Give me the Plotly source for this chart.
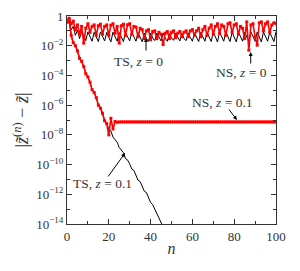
import plotly.graph_objects as go

n_all = list(range(0, 101))

ts_z0 = [0.45, 0.35, 0.12, 0.2, 0.05, 0.11, 0.03, 0.09, 0.045, 0.022,
         0.085, 0.04, 0.02, 0.08, 0.042, 0.019, 0.085, 0.045, 0.021, 0.08,
         0.04, 0.018, 0.082, 0.038, 0.02, 0.078, 0.04, 0.019, 0.075, 0.036,
         0.021, 0.08, 0.042, 0.02, 0.076, 0.035, 0.018, 0.07, 0.03, 0.02,
         0.068, 0.033, 0.022, 0.072, 0.036, 0.021, 0.07, 0.032, 0.02, 0.066,
         0.034, 0.023, 0.07, 0.035, 0.021, 0.068, 0.03, 0.022, 0.074, 0.036,
         0.02, 0.075, 0.038, 0.019, 0.08, 0.04, 0.02, 0.082, 0.041, 0.019,
         0.085, 0.04, 0.018, 0.083, 0.043, 0.02, 0.086, 0.042, 0.019, 0.08,
         0.038, 0.018, 0.085, 0.04, 0.02, 0.082, 0.039, 0.019, 0.084, 0.04,
         0.02, 0.083, 0.041, 0.018, 0.085, 0.04, 0.02, 0.08, 0.038, 0.019,
         0.09]

ns_z0 = [0.4, 0.7, 0.3, 0.45, 0.12, 0.25, 0.06, 0.2, 0.015, 0.15,
         0.3, 0.08, 0.2, 0.25, 0.05, 0.22, 0.28, 0.06, 0.2, 0.25,
         0.05, 0.24, 0.3, 0.07, 0.2, 0.015, 0.22, 0.28, 0.05, 0.26,
         0.3, 0.06, 0.2, 0.18, 0.04, 0.15, 0.12, 0.03, 0.1, 0.12,
         0.025, 0.09, 0.1, 0.03, 0.08, 0.06, 0.012, 0.07, 0.09, 0.03,
         0.08, 0.1, 0.035, 0.07, 0.09, 0.04, 0.08, 0.1, 0.04, 0.1,
         0.12, 0.05, 0.1, 0.15, 0.04, 0.12, 0.2, 0.05, 0.15, 0.25,
         0.06, 0.2, 0.3, 0.07, 0.25, 0.2, 0.05, 0.3, 0.35, 0.08,
         0.25, 0.3, 0.06, 0.2, 0.15, 0.03, 0.4, 0.005, 0.25, 0.3,
         0.04, 0.011, 0.35, 0.4, 0.1, 0.3, 0.4, 0.08, 0.25, 0.35,
         0.3]

n_ts01 = list(range(0, 47))
ts_z01 = [0.4, 0.63, 5.0e-2, 1.6e-2, 1.0e-2, 4.5e-3, 1.4e-3, 8.9e-4, 4.0e-4, 1.3e-4,
          7.9e-5, 3.5e-5, 1.1e-5, 7.1e-6, 3.2e-6, 1.0e-6, 6.3e-7, 2.8e-7, 8.9e-8, 5.6e-8,
          2.5e-8, 1.8e-8, 7.1e-9, 5.0e-9, 3.2e-9, 1.4e-9, 1.0e-9, 6.3e-10, 2.5e-10, 2.0e-10,
          1.1e-10, 5.0e-11, 4.0e-11, 2.0e-11, 8.9e-12, 7.1e-12, 3.5e-12, 1.6e-12, 1.3e-12, 6.3e-13,
          2.8e-13, 2.0e-13, 1.0e-13, 5.0e-14, 3.2e-14, 1.3e-14, 6.3e-15]

ns_z01 = [0.4, 0.63, 5.0e-2, 1.6e-2, 1.0e-2, 4.5e-3, 1.4e-3, 8.9e-4, 4.0e-4, 1.3e-4,
          7.9e-5, 3.5e-5, 1.1e-5, 7.1e-6, 3.2e-6, 1.0e-6, 6.3e-7, 2.8e-7, 8.9e-8, 5.6e-8,
          1.0e-8, 1.3e-7, 2.5e-8, 8.0e-8, 7.0e-8, 7.4e-8, 7.4e-8, 7.4e-8, 7.4e-8, 7.4e-8,
          7.4e-8, 7.4e-8, 7.4e-8, 7.4e-8, 7.4e-8, 7.4e-8, 7.4e-8, 7.4e-8, 7.4e-8, 7.4e-8,
          7.4e-8, 7.4e-8, 7.4e-8, 7.4e-8, 7.4e-8, 7.4e-8, 7.4e-8, 7.4e-8, 7.4e-8, 7.4e-8,
          7.4e-8, 7.4e-8, 7.4e-8, 7.4e-8, 7.4e-8, 7.4e-8, 7.4e-8, 7.4e-8, 7.4e-8, 7.4e-8,
          7.4e-8, 7.4e-8, 7.4e-8, 7.4e-8, 7.4e-8, 7.4e-8, 7.4e-8, 7.4e-8, 7.4e-8, 7.4e-8,
          7.4e-8, 7.4e-8, 7.4e-8, 7.4e-8, 7.4e-8, 7.4e-8, 7.4e-8, 7.4e-8, 7.4e-8, 7.4e-8,
          7.4e-8, 7.4e-8, 7.4e-8, 7.4e-8, 7.4e-8, 7.4e-8, 7.4e-8, 7.4e-8, 7.4e-8, 7.4e-8,
          7.4e-8, 7.4e-8, 7.4e-8, 7.4e-8, 7.4e-8, 7.4e-8, 7.4e-8, 7.4e-8, 7.4e-8, 7.4e-8,
          7.4e-8]

x_ticks = [0, 20, 40, 60, 80, 100]
x_minor = [10, 30, 50, 70, 90]
y_ticks = [1, 1e-2, 1e-4, 1e-6, 1e-8, 1e-10, 1e-12, 1e-14]
y_ticktext = ["1", "10<sup>−2</sup>", "10<sup>−4</sup>", "10<sup>−6</sup>",
              "10<sup>−8</sup>", "10<sup>−10</sup>", "10<sup>−12</sup>", "10<sup>−14</sup>"]
y_minor = [1e-1, 1e-3, 1e-5, 1e-7, 1e-9, 1e-11, 1e-13]

FONT = "Liberation Serif"
RED = "#ff0000"
INK = "#333333"

fig = go.Figure()
fig.add_trace(go.Scatter(x=n_all, y=ts_z0, mode="lines",
                         line=dict(color="black", width=1)))
fig.add_trace(go.Scatter(x=n_ts01, y=ts_z01, mode="lines",
                         line=dict(color="black", width=1)))
fig.add_trace(go.Scatter(x=n_all, y=ns_z0, mode="lines+markers",
                         line=dict(color=RED, width=1.6),
                         marker=dict(color=RED, size=3, symbol="square")))
fig.add_trace(go.Scatter(x=n_all, y=ns_z01, mode="lines+markers",
                         line=dict(color=RED, width=1.6),
                         marker=dict(color=RED, size=3, symbol="square")))

axis_common = dict(showgrid=False, zeroline=False, showline=True, linecolor=INK,
                   linewidth=1, mirror="allticks", ticks="inside", ticklen=5,
                   tickcolor=INK, automargin=False,
                   tickfont=dict(family=FONT, size=13, color=INK))

fig.update_xaxes(range=[0, 100], tickvals=x_ticks, ticktext=[str(v) for v in x_ticks],
                 minor=dict(tickvals=x_minor, ticks="inside", ticklen=3, tickcolor=INK),
                 title=dict(text="<i>n</i>", font=dict(family=FONT, size=16, color=INK),
                            standoff=0),
                 **axis_common)
fig.update_yaxes(type="log", range=[-14, 0], tickvals=y_ticks, ticktext=y_ticktext,
                 minor=dict(tickvals=y_minor, ticks="inside", ticklen=3, tickcolor=INK),
                 title=dict(text="|<i>z̃</i><sup>(<i>n</i>)</sup> − <i>z̃</i>|",
                            font=dict(family=FONT, size=18, color=INK), standoff=2),
                 **axis_common)

ann_font = dict(family=FONT, size=13.5, color=INK)
texts = [
    ("TS, <i>z</i> = 0", 34, -3.03),
    ("NS, <i>z</i> = 0", 83.7, -3.77),
    ("NS, <i>z</i> = 0.1", 74.6, -5.79),
    ("TS, <i>z</i> = 0.1", 17.2, -11.3),
]
for t, xx, yy in texts:
    fig.add_annotation(x=xx, y=yy, text=t, showarrow=False, font=ann_font,
                       xanchor="center", yanchor="middle")

arrows = [
    (37.8, -1.48, 0, 14),
    (87.9, -2.42, 0, 13),
    (81.3, -7.0, -9, -12),
    (27.8, -9.22, -18, 25),
]
for xx, yy, ax, ay in arrows:
    fig.add_annotation(x=xx, y=yy, text="", showarrow=True, ax=ax, ay=ay,
                       arrowhead=2, arrowsize=0.8, arrowwidth=1, arrowcolor="black")

# page body has an 8px default margin, so the figure is sized to fit the window
fig.update_layout(width=292, height=263, showlegend=False,
                  margin=dict(l=59, r=24, t=8, b=47),
                  plot_bgcolor="white", paper_bgcolor="white")

fig.write_html("out.html")
